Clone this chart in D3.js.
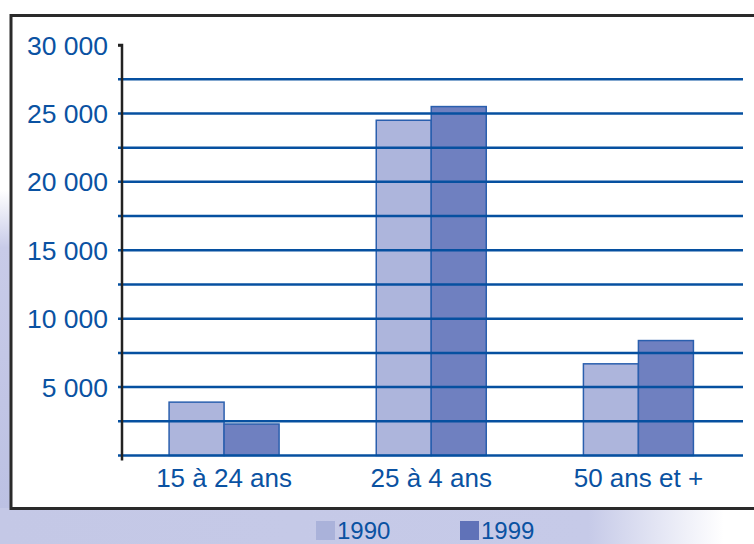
<!DOCTYPE html>
<html>
<head>
<meta charset="utf-8">
<script src="https://cdn.jsdelivr.net/npm/d3@7"></script>
<style>
  body { margin: 0; background: #fff; }
  svg { display: block; font-family: "Liberation Sans", Arial, sans-serif; }
</style>
</head>
<body>
<svg id="chart" width="754" height="544"></svg>
<script>
// data
var categories = ['15 à 24 ans', '25 à 4 ans', '50 ans et +'];
var series = ['1990', '1999'];
var values1990 = [3900, 24500, 6700];
var values1999 = [2300, 25500, 8400];
var yTicks = [5000, 10000, 15000, 20000, 25000, 30000];
var gridTicks = [0, 2500, 5000, 7500, 10000, 12500, 15000, 17500, 20000, 22500, 25000, 27500, 30000];

var blue = '#0a52a2';
var barColors = ['#adb5dc', '#6f80c0'];
var legendColors = ['#aab2da', '#6072b8'];

var svg = d3.select('#chart');
var defs = svg.append('defs');

var gLeft = defs.append('linearGradient').attr('id', 'bgLeft')
  .attr('x1', 0).attr('y1', 0).attr('x2', 0).attr('y2', 1);
gLeft.append('stop').attr('offset', '0%').attr('stop-color', '#ffffff');
gLeft.append('stop').attr('offset', '18%').attr('stop-color', '#c8cbe8');
gLeft.append('stop').attr('offset', '100%').attr('stop-color', '#bcc1e3');

var gBottom = defs.append('linearGradient').attr('id', 'bgBottom')
  .attr('x1', 0).attr('y1', 0).attr('x2', 1).attr('y2', 0);
gBottom.append('stop').attr('offset', '0%').attr('stop-color', '#c4c8e6');
gBottom.append('stop').attr('offset', '78%').attr('stop-color', '#c6cae8');
gBottom.append('stop').attr('offset', '96%').attr('stop-color', '#ffffff');

// decorative background
svg.append('rect').attr('x', 0).attr('y', 190).attr('width', 12).attr('height', 320)
  .attr('fill', 'url(#bgLeft)');
svg.append('rect').attr('x', 0).attr('y', 508).attr('width', 754).attr('height', 36)
  .attr('fill', 'url(#bgBottom)');

// frame
svg.append('rect').attr('x', 11).attr('y', 15.5).attr('width', 760).attr('height', 493)
  .attr('fill', '#fff').attr('stroke', '#2a2a2a').attr('stroke-width', 3);

var margin = {top: 45, left: 122, right: 743, bottom: 455.5};

var x = d3.scaleBand().domain(categories).range([120.5, 742]).paddingInner(0).paddingOuter(0);
var groupWidth = 110;
var xs = d3.scaleBand().domain(series).range([0, groupWidth]);
var y = d3.scaleLinear().domain([0, 30000]).range([margin.bottom, margin.top]);

var g = svg.append('g');

// bars
var groups = g.selectAll('.grp').data(categories).enter().append('g')
  .attr('transform', d => 'translate(' + (x(d) + x.bandwidth() / 2 - groupWidth / 2) + ',0)');

groups.selectAll('rect')
  .data((d, i) => [values1990[i], values1999[i]])
  .enter().append('rect')
  .attr('x', (d, i) => xs(series[i]))
  .attr('width', xs.bandwidth())
  .attr('y', d => y(d))
  .attr('height', d => y(0) - y(d))
  .attr('fill', (d, i) => barColors[i])
  .attr('stroke', '#2a5fae')
  .attr('stroke-width', 1.5);

// gridlines drawn over the bars
g.selectAll('.grid').data(gridTicks.slice(0, -1)).enter().append('line')
  .attr('x1', 118).attr('x2', margin.right)
  .attr('y1', d => y(d)).attr('y2', d => y(d))
  .attr('stroke', '#0650a0').attr('stroke-width', 2.5);

// y axis
var yAxis = g.append('g').attr('transform', 'translate(' + margin.left + ',0)')
  .call(d3.axisLeft(y).tickValues([30000]).tickSize(4).tickFormat(''));
yAxis.select('.domain').attr('stroke', '#222').attr('stroke-width', 2.5)
  .attr('d', 'M-4,' + y(30000) + 'H0V' + (y(0) + 5));
yAxis.selectAll('.tick line').attr('stroke', '#222').attr('stroke-width', 2.5);

g.selectAll('.ylab').data(yTicks).enter().append('text')
  .attr('x', 108).attr('y', d => y(d) + 9.5)
  .attr('text-anchor', 'end')
  .attr('fill', blue)
  .style('font-size', '26.5px')
  .text(d => d3.format(',')(d).replace(',', ' '));

// x labels
g.selectAll('.xlab').data(categories).enter().append('text')
  .attr('x', d => x(d) + x.bandwidth() / 2)
  .attr('y', 487)
  .attr('text-anchor', 'middle')
  .attr('fill', blue)
  .style('font-size', '26px')
  .text(d => d);

// legend
var legendX = [316, 460];
var leg = svg.selectAll('.leg').data(series).enter().append('g')
  .attr('transform', (d, i) => 'translate(' + legendX[i] + ',521)');
leg.append('rect').attr('width', 19).attr('height', 19)
  .attr('fill', (d, i) => legendColors[i]);
leg.append('text').attr('x', 21).attr('y', 18)
  .attr('fill', blue)
  .style('font-size', '24px')
  .text(d => d);
</script>
</body>
</html>
